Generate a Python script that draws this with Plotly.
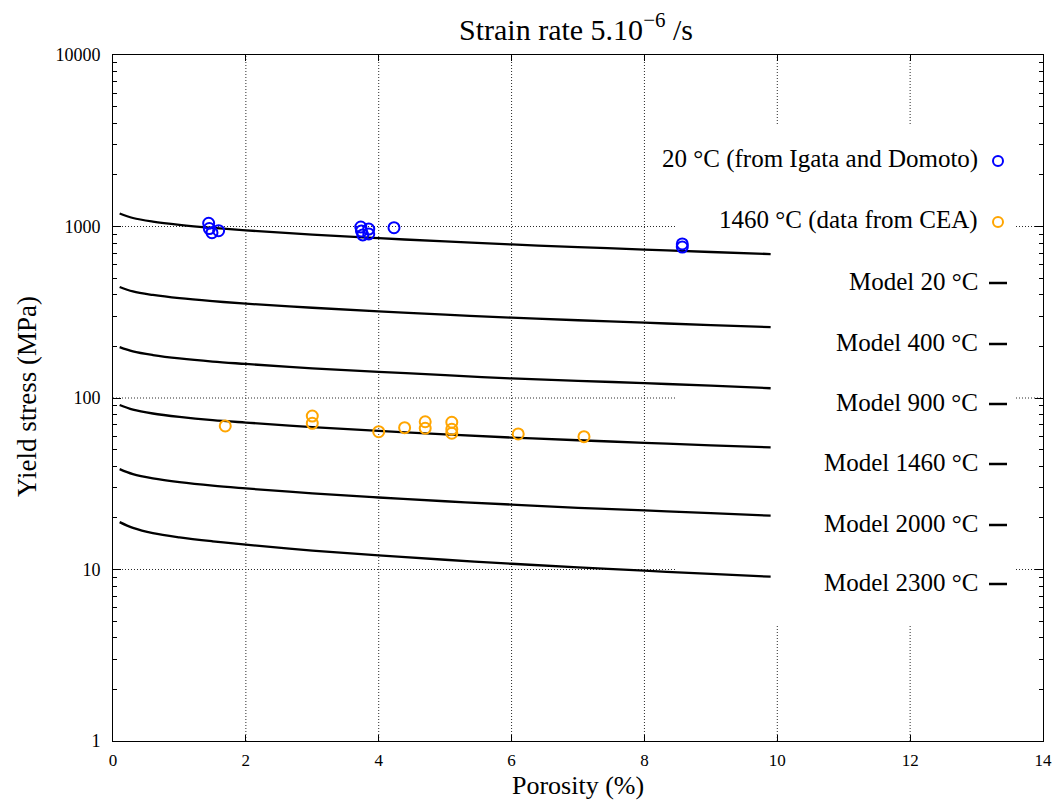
import plotly.graph_objects as go

# Model curves: porosity (%) vs yield stress (MPa)
porosity_model = [0.1, 0.3, 0.6, 1, 1.5, 2, 3, 4, 5, 6, 7, 8, 9, 9.9]
model_20 = [1191, 1121, 1068, 1023, 982, 950, 897, 855, 818, 786, 758, 734, 710, 691]
model_400 = [444, 418, 399, 382, 367, 355, 336, 320, 306, 294, 284, 275, 266, 259]
model_900 = [198, 187, 178, 170, 163, 158, 149, 142, 136, 130, 126, 122, 118, 114]
model_1460 = [91.0, 85.5, 81.2, 77.6, 74.3, 71.9, 67.7, 64.3, 61.4, 58.8, 56.7, 54.8, 52.9, 51.5]
model_2000 = [38.5, 36.0, 34.0, 32.3, 30.8, 29.7, 27.8, 26.3, 25.0, 23.9, 22.9, 22.1, 21.3, 20.6]
model_2300 = [18.9, 17.5, 16.3, 15.4, 14.6, 13.95, 12.9, 12.1, 11.4, 10.8, 10.3, 9.84, 9.42, 9.08]

# Experimental data
igata_porosity = [1.44, 1.45, 1.49, 1.59, 3.73, 3.74, 3.76, 3.85, 3.85, 4.23, 8.57, 8.57]
igata_stress = [1044, 973, 920, 945, 993, 942, 893, 966, 905, 984, 791, 759]

cea_porosity = [1.69, 3.0, 3.0, 4.0, 4.39, 4.70, 4.70, 5.10, 5.10, 5.10, 6.10, 7.09]
cea_stress = [68.7, 78.5, 71.2, 63.6, 67.1, 72.7, 66.6, 72.2, 65.7, 62.3, 61.7, 59.5]

model_curves = [model_20, model_400, model_900, model_1460, model_2000, model_2300]

data_labels = ["20 °C (from Igata and Domoto)", "1460 °C (data from CEA)"]
data_colors = ["#0000ff", "#ffa500"]
model_labels = ["Model 20 °C", "Model 400 °C", "Model 900 °C",
                "Model 1460 °C", "Model 2000 °C", "Model 2300 °C"]

x_ticks = [0, 2, 4, 6, 8, 10, 12, 14]
y_ticks = [1, 10, 100, 1000, 10000]
y_ticktext = ["1", "10", "100", "1000", "10000"]
x_range = [0, 14]
y_range_log = [0, 4]

title_text = "Strain rate 5.10<sup>−6</sup> /s"
x_title = "Porosity (%)"
y_title = "Yield stress (MPa)"

FONT = "Liberation Serif"
W, H = 1059, 800
L, R, T, B = 113, 16, 55, 59
PW, PH = W - L - R, H - T - B
GRID = dict(color="#2a2a2a", width=1, dash="1px,2px")


def px_x(px):
    return (px - L) / PW


def px_y(py):
    return (H - B - py) / PH


fig = go.Figure()

for ys in model_curves:
    fig.add_trace(go.Scatter(
        x=porosity_model, y=ys, mode="lines", line_shape="spline",
        line=dict(color="black", width=2.3), showlegend=False, hoverinfo="skip"))

fig.add_trace(go.Scatter(
    x=igata_porosity, y=igata_stress, mode="markers", showlegend=False,
    marker=dict(symbol="circle-open", size=11, color=data_colors[0],
                line=dict(width=2, color=data_colors[0]))))
fig.add_trace(go.Scatter(
    x=cea_porosity, y=cea_stress, mode="markers", showlegend=False,
    marker=dict(symbol="circle-open", size=11, color=data_colors[1],
                line=dict(width=2, color=data_colors[1]))))

shapes = []
annotations = []

# Legend panel bounds (paper), converted to data units so the grid stops there
panel_px = dict(x0=677, x1=1016, top=124, bottom=625)
px0, px1 = px_x(panel_px["x0"]), px_x(panel_px["x1"])
py0, py1 = px_y(panel_px["bottom"]), px_y(panel_px["top"])
bx0 = x_range[0] + px0 * (x_range[1] - x_range[0])
bx1 = x_range[0] + px1 * (x_range[1] - x_range[0])
by0 = 10 ** (y_range_log[0] + py0 * (y_range_log[1] - y_range_log[0]))
by1 = 10 ** (y_range_log[0] + py1 * (y_range_log[1] - y_range_log[0]))
y_lo, y_hi = 10 ** y_range_log[0], 10 ** y_range_log[1]

# Dotted grid, interrupted by the legend panel
for xv in x_ticks[1:-1]:
    if bx0 < xv < bx1:
        segs = [(y_lo, by0), (by1, y_hi)]
    else:
        segs = [(y_lo, y_hi)]
    for a, b in segs:
        shapes.append(dict(type="line", xref="x", yref="y", layer="below",
                           x0=xv, x1=xv, y0=a, y1=b, line=GRID))
for yv in y_ticks[1:-1]:
    if by0 < yv < by1:
        segs = [(x_range[0], bx0), (bx1, x_range[1])]
    else:
        segs = [(x_range[0], x_range[1])]
    for a, b in segs:
        shapes.append(dict(type="line", xref="x", yref="y", layer="below",
                           x0=a, x1=b, y0=yv, y1=yv, line=GRID))

legend_text_right = 980
entry_rows = [161, 222, 283, 344, 404, 464, 525, 584]
legend_labels = data_labels + model_labels

for i, (label, row) in enumerate(zip(legend_labels, entry_rows)):
    annotations.append(dict(
        text=label, xref="paper", yref="paper", x=px_x(legend_text_right),
        y=px_y(row - 2), xanchor="right", yanchor="middle", showarrow=False,
        font=dict(family=FONT, size=25, color="black")))
    if i < len(data_labels):
        shapes.append(dict(
            type="circle", xref="paper", yref="paper",
            xsizemode="pixel", ysizemode="pixel",
            xanchor=px_x(998), yanchor=px_y(row),
            x0=-5, x1=5, y0=-5, y1=5,
            line=dict(color=data_colors[i], width=2)))
    else:
        shapes.append(dict(
            type="line", xref="paper", yref="paper",
            x0=px_x(989), x1=px_x(1007), y0=px_y(row), y1=px_y(row),
            line=dict(color="black", width=2.5)))

annotations.append(dict(
    text=title_text, xref="paper", yref="paper", x=px_x(576), y=px_y(27),
    xanchor="center", yanchor="middle", showarrow=False,
    font=dict(family=FONT, size=30, color="black")))
annotations.append(dict(
    text=x_title, xref="paper", yref="paper", x=px_x(578), y=px_y(785),
    xanchor="center", yanchor="middle", showarrow=False,
    font=dict(family=FONT, size=26, color="black")))
annotations.append(dict(
    text=y_title, xref="paper", yref="paper", x=px_x(27), y=px_y(397),
    xanchor="center", yanchor="middle", showarrow=False, textangle=-90,
    font=dict(family=FONT, size=27, color="black")))

fig.update_layout(
    width=W, height=H, autosize=False,
    margin=dict(l=L, r=R, t=T, b=B, autoexpand=False),
    paper_bgcolor="white", plot_bgcolor="white",
    font=dict(family=FONT, color="black"),
    shapes=shapes, annotations=annotations,
    showlegend=False,
)

fig.update_xaxes(
    range=x_range, tickvals=x_ticks, ticks="inside", ticklen=6, tickwidth=1,
    tickcolor="black", showline=True, linecolor="black", linewidth=1,
    mirror="ticks", showgrid=False, zeroline=False, automargin=False,
    tickfont=dict(family=FONT, size=17), ticklabelstandoff=4)

fig.update_yaxes(
    type="log", range=y_range_log, tickvals=y_ticks, ticktext=y_ticktext,
    ticks="inside", ticklen=8, tickwidth=1, tickcolor="black",
    minor=dict(ticks="inside", ticklen=4, tickcolor="black", dtick="D1",
               showgrid=False),
    showline=True, linecolor="black", linewidth=1, mirror="ticks",
    showgrid=False, zeroline=False, automargin=False,
    tickfont=dict(family=FONT, size=18), ticklabelstandoff=8)

fig.write_html("out.html")
